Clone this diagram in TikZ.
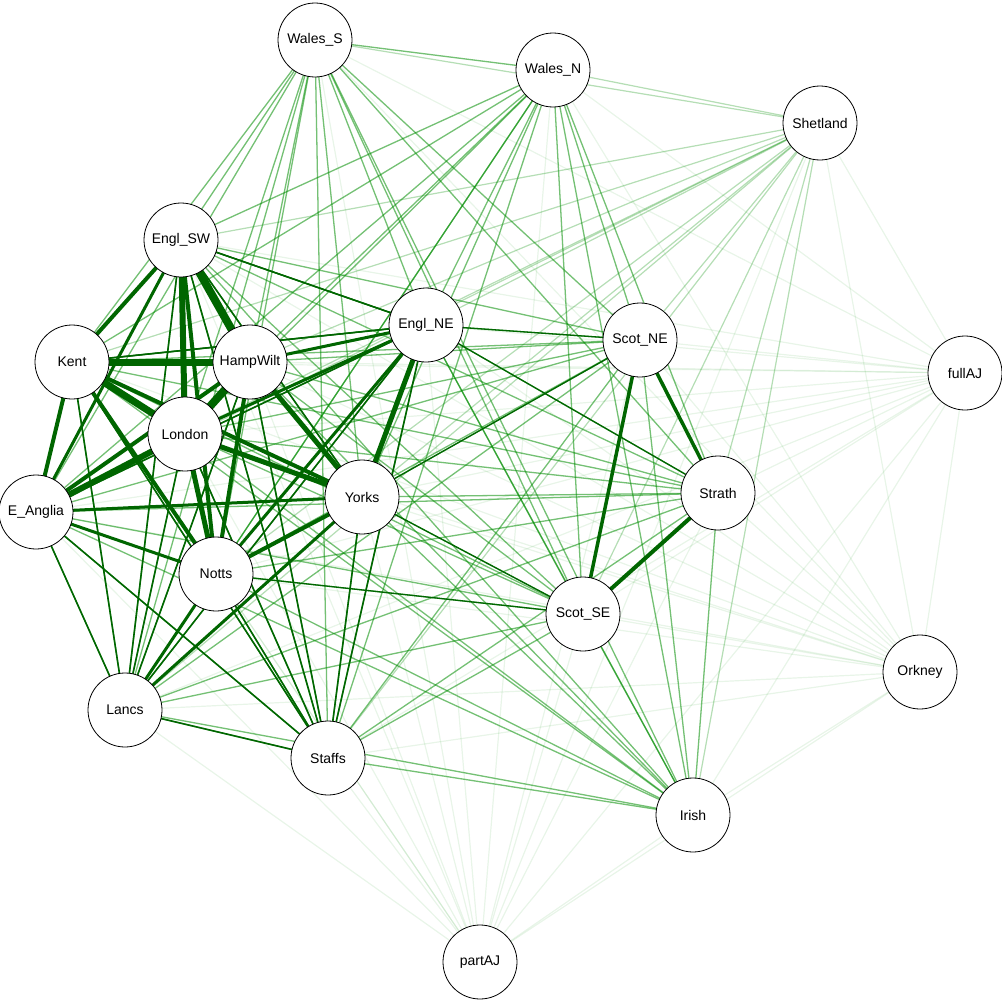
\documentclass[tikz,border=0pt]{standalone}
\usepackage{fontspec}
\setmainfont{Liberation Sans}
\begin{document}
\begin{tikzpicture}[x=1pt,y=-1pt,
  nd/.style={circle,draw,thick,fill=white,minimum size=74pt,inner sep=0pt,font=\fontsize{14}{16}\selectfont},
  e0/.style={green!55!black,opacity=0.09,line width=1.2pt},
  eS/.style={green!55!black,opacity=0.22,line width=1.2pt},
  e1/.style={green!55!black,opacity=0.5,line width=1.3pt},
  e2/.style={green!40!black,line width=1.6pt}]
\useasboundingbox (0,0) rectangle (1002,1001);
\foreach \n/\x/\y in {WalesS/315/40,WalesN/553/70,Shetland/820/123,EnglSW/181/240,EnglNE/426/325,ScotNE/640/340,fullAJ/965/373,Kent/72/362,HampWilt/250/362,London/185/434,EAnglia/36/512,Yorks/362/497,Strath/718/493,Notts/216/574,ScotSE/583/614,Orkney/920/672,Lancs/125/710,Staffs/328/758,Irish/693/815,partAJ/480/962}
  \coordinate (c\n) at (\x,\y);
\foreach \a [count=\i] in {WalesS,WalesN,Shetland,EnglSW,EnglNE,ScotNE,fullAJ,Kent,HampWilt,London,EAnglia,Yorks,Strath,Notts,ScotSE,Orkney,Lancs,Staffs,Irish,partAJ}{
 \foreach \b [count=\j] in {WalesS,WalesN,Shetland,EnglSW,EnglNE,ScotNE,fullAJ,Kent,HampWilt,London,EAnglia,Yorks,Strath,Notts,ScotSE,Orkney,Lancs,Staffs,Irish,partAJ}{
  \ifnum\j>\i \draw[e0] (c\a) -- (c\b); \fi }}
\foreach \b in {WalesS,WalesN,EnglSW,EnglNE,ScotNE,Kent,HampWilt,London,EAnglia,Yorks,Strath,Notts,ScotSE,Lancs,Staffs,Irish}
  \draw[eS] (cShetland) -- (c\b);
\foreach \a [count=\i] in {WalesS,WalesN,EnglSW,EnglNE,ScotNE,Kent,HampWilt,London,EAnglia,Yorks,Strath,Notts,ScotSE,Lancs,Staffs,Irish}{
 \foreach \b [count=\j] in {WalesS,WalesN,EnglSW,EnglNE,ScotNE,Kent,HampWilt,London,EAnglia,Yorks,Strath,Notts,ScotSE,Lancs,Staffs,Irish}{
  \ifnum\j>\i \draw[e1] (c\a) -- (c\b); \fi }}
\foreach \a [count=\i] in {EnglSW,EnglNE,Kent,HampWilt,London,EAnglia,Yorks,Notts,Lancs,Staffs}{
 \foreach \b [count=\j] in {EnglSW,EnglNE,Kent,HampWilt,London,EAnglia,Yorks,Notts,Lancs,Staffs}{
  \ifnum\j>\i \draw[e2] (c\a) -- (c\b); \fi }}
\foreach \a/\b in {EnglNE/ScotNE,Yorks/ScotNE,EnglNE/Strath,Yorks/ScotSE,Notts/ScotSE,EnglSW/EnglNE,Kent/EnglNE}
  \draw[e2,line width=1.3pt] (c\a) -- (c\b);
\foreach \a/\b/\w in {Kent/HampWilt/7,Kent/London/7,EnglSW/HampWilt/8,EnglSW/London/6,EnglSW/Notts/4,HampWilt/London/8,London/EAnglia/6,London/Notts/5,HampWilt/Notts/4,HampWilt/Yorks/5,London/Yorks/5,Kent/Yorks/4,EnglNE/Yorks/5,EnglNE/Notts/3,EAnglia/HampWilt/4,EAnglia/Kent/4,EAnglia/Notts/3,Kent/Notts/4,Notts/Yorks/4,EnglSW/Kent/4,EnglSW/EAnglia/3,ScotNE/ScotSE/3.5,Strath/ScotSE/4,ScotNE/Strath/3.5,EnglNE/HampWilt/3,EnglNE/London/3,Lancs/Yorks/3,Notts/Lancs/3,EAnglia/Yorks/3}
  \draw[green!40!black,line width=\w pt] (c\a) -- (c\b);
\foreach \n/\t in {WalesS/Wales\_S,WalesN/Wales\_N,Shetland/Shetland,EnglSW/Engl\_SW,EnglNE/Engl\_NE,ScotNE/Scot\_NE,fullAJ/fullAJ,Kent/Kent,HampWilt/HampWilt,London/London,EAnglia/E\_Anglia,Yorks/Yorks,Strath/Strath,Notts/Notts,ScotSE/Scot\_SE,Orkney/Orkney,Lancs/Lancs,Staffs/Staffs,Irish/Irish,partAJ/partAJ}
  \node[nd] (\n) at (c\n) {\t};
\end{tikzpicture}
\end{document}
